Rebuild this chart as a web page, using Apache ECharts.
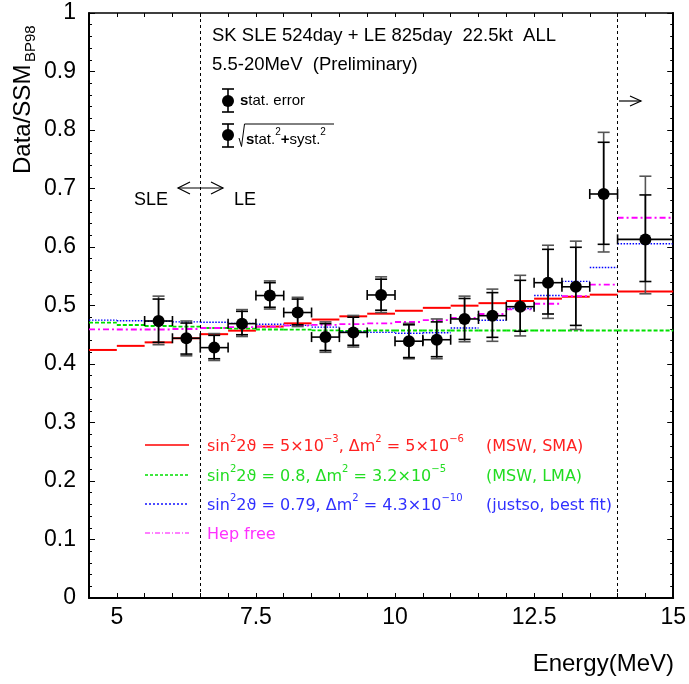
<!DOCTYPE html>
<html><head><meta charset="utf-8">
<script src="https://cdn.jsdelivr.net/npm/echarts@6/dist/echarts.min.js"></script>
<style>html,body{margin:0;padding:0;background:#fff}#c{width:689px;height:684px}</style>
</head><body><div id="c"></div>
<script>
// ---- data points (Data/SSM_BP98 vs energy) ----
const energy   = [5.75,6.25,6.75,7.25,7.75,8.25,8.75,9.25,9.75,10.25,10.75,11.25,11.75,12.25,12.75,13.25,13.75,14.5];
const energyLo = [5.5,6.0,6.5,7.0,7.5,8.0,8.5,9.0,9.5,10.0,10.5,11.0,11.5,12.0,12.5,13.0,13.5,14.0];
const energyHi = [6.0,6.5,7.0,7.5,8.0,8.5,9.0,9.5,10.0,10.5,11.0,11.5,12.0,12.5,13.0,13.5,14.0,15.0];
const ratio    = [0.4735,0.444,0.428,0.469,0.517,0.488,0.446,0.454,0.518,0.439,0.4415,0.477,0.4826,0.498,0.539,0.532,0.6906,0.613];
const statLow  = [0.437,0.417,0.409,0.450,0.497,0.467,0.423,0.432,0.492,0.411,0.4125,0.442,0.4456,0.456,0.4855,0.466,0.6046,0.541];
const statHigh = [0.511,0.470,0.449,0.490,0.539,0.511,0.469,0.480,0.545,0.467,0.472,0.512,0.522,0.543,0.596,0.5995,0.779,0.689];
const totLow   = [0.433,0.414,0.406,0.447,0.494,0.464,0.420,0.429,0.488,0.409,0.409,0.438,0.4388,0.448,0.478,0.459,0.5915,0.520];
const totHigh  = [0.516,0.4735,0.452,0.493,0.542,0.514,0.472,0.483,0.549,0.4695,0.477,0.516,0.528,0.5516,0.603,0.610,0.796,0.721];

// ---- model expectation bins ----
const binLo = [4.5,5.0,5.5,6.0,6.5,7.0,7.5,8.0,8.5,9.0,9.5,10.0,10.5,11.0,11.5,12.0,12.5,13.0,13.5,14.0];
const binHi = [5.0,5.5,6.0,6.5,7.0,7.5,8.0,8.5,9.0,9.5,10.0,10.5,11.0,11.5,12.0,12.5,13.0,13.5,14.0,15.0];
const mswSMA  = [0.424,0.431,0.437,0.444,0.451,0.457,0.464,0.4695,0.476,0.4815,0.486,0.491,0.496,0.4997,0.504,0.5077,0.5117,0.515,0.5185,0.524];
const mswLMA  = [0.4706,0.4667,0.465,0.464,0.4615,0.4604,0.459,0.4587,0.4575,0.4564,0.4573,0.4573,0.4573,0.4573,0.4573,0.4573,0.4573,0.4573,0.4573,0.4573];
const justso  = [0.475,0.474,0.473,0.472,0.4713,0.4695,0.468,0.466,0.463,0.4547,0.454,0.4525,0.4535,0.4615,0.4747,0.495,0.517,0.5413,0.565,0.6056];
const hepFree = [0.4593,0.459,0.459,0.4598,0.4615,0.463,0.464,0.4655,0.467,0.468,0.4695,0.4718,0.475,0.479,0.4855,0.4935,0.503,0.516,0.5356,0.650];

// ---- axis labels ----
const xLabelValues = [5, 7.5, 10, 12.5, 15];
const sleLeBoundary = 6.5;
const highEnergyBoundary = 14;

const RED = '#ff0000', GREEN = '#00e000', BLUE = '#0000ff', MAG = '#ff00ff';
const SANS = 'Liberation Sans, Arial, sans-serif';
const LSANS = 'DejaVu Sans, sans-serif';

const chart = echarts.init(document.getElementById('c'), null, {renderer: 'canvas'});

function modelSeries(name, vals, color, width, dash) {
  return {
    type: 'custom', name: name,
    data: vals.map((v, i) => [binLo[i], binHi[i], v]),
    encode: {x: [0, 1], y: 2},
    renderItem: function (params, api) {
      const p1 = api.coord([api.value(0), api.value(2)]);
      const p2 = api.coord([api.value(1), api.value(2)]);
      return {type: 'line', shape: {x1: p1[0], y1: p1[1], x2: p2[0], y2: p2[1]},
        style: {stroke: color, lineWidth: width, lineDash: dash}};
    }
  };
}

function renderPoint(params, api) {
  const x = api.value(0), y = api.value(1);
  const c = api.coord([x, y]);
  const xl = api.coord([api.value(2), y])[0];
  const xh = api.coord([api.value(3), y])[0];
  const sl = api.coord([x, api.value(4)])[1];
  const sh = api.coord([x, api.value(5)])[1];
  const tl = api.coord([x, api.value(6)])[1];
  const th = api.coord([x, api.value(7)])[1];
  const cap = 6, hcap = 5;
  const gray = {stroke: '#555', lineWidth: 1.6};
  const blk = {stroke: '#000', lineWidth: 1.6};
  const L = (x1, y1, x2, y2, st) => ({type: 'line', shape: {x1, y1, x2, y2}, style: st});
  return {type: 'group', children: [
    L(c[0], th, c[0], tl, gray),
    L(c[0] - cap, th, c[0] + cap, th, gray),
    L(c[0] - cap, tl, c[0] + cap, tl, gray),
    L(c[0], sh, c[0], sl, blk),
    L(c[0] - cap, sh, c[0] + cap, sh, blk),
    L(c[0] - cap, sl, c[0] + cap, sl, blk),
    L(xl, c[1], xh, c[1], blk),
    L(xl, c[1] - hcap, xl, c[1] + hcap, blk),
    L(xh, c[1] - hcap, xh, c[1] + hcap, blk),
    {type: 'circle', shape: {cx: c[0], cy: c[1], r: 6}, style: {fill: '#000'}}
  ]};
}

function legRich(color) {
  return {
    n: {fontSize: 16, fontFamily: LSANS, fill: color, lineHeight: 20, verticalAlign: 'bottom'},
    s: {fontSize: 10, fontFamily: LSANS, fill: color, lineHeight: 10, verticalAlign: 'top'}
  };
}
function txt(x, y, text, opts) {
  const st = Object.assign({text: text, fontSize: 18.5, fontFamily: SANS, fill: '#000',
    align: 'left', textAlign: 'left', verticalAlign: 'middle', textVerticalAlign: 'middle'}, opts || {});
  return {type: 'text', x: x, y: y, style: st, silent: true};
}
function ln(x1, y1, x2, y2, st) {
  return {type: 'line', shape: {x1, y1, x2, y2}, style: Object.assign({stroke: '#000', lineWidth: 1.2}, st || {}), silent: true};
}
function pl(points, st) {
  return {type: 'polyline', shape: {points: points}, style: Object.assign({stroke: '#000', lineWidth: 1.2, fill: null}, st || {}), silent: true};
}

const legendRows = [
  {y: 445, color: RED, dash: null, lw: 1.6,
   text: '{n|sin}{s|2}{n|2ϑ = 5×10}{s|−3}{n|, Δm}{s|2}{n| = 5×10}{s|−6}', tail: '(MSW, SMA)'},
  {y: 475, color: GREEN, dash: [3, 2], lw: 1.6,
   text: '{n|sin}{s|2}{n|2ϑ = 0.8, Δm}{s|2}{n| = 3.2×10}{s|−5}', tail: '(MSW, LMA)'},
  {y: 504, color: BLUE, dash: [2, 2], lw: 1.4,
   text: '{n|sin}{s|2}{n|2ϑ = 0.79, Δm}{s|2}{n| = 4.3×10}{s|−10}', tail: '(justso, best fit)'},
  {y: 533, color: MAG, dash: [5, 2, 1, 2], lw: 1.2, text: '{n|Hep free}', tail: ''}
];
const textColors = ['#ff2020', '#22dd22', '#3030ff', '#ff30ff'];

const graphics = [
  txt(212, 36, 'SK SLE 524day + LE 825day  22.5kt  ALL'),
  txt(212, 65, '5.5-20MeV  (Preliminary)'),
  // legend marker 1: stat error
  ln(228, 89, 228, 112, {lineWidth: 1.6}), ln(222, 89, 234, 89, {lineWidth: 1.6}), ln(222, 112, 234, 112, {lineWidth: 1.6}),
  {type: 'circle', shape: {cx: 228, cy: 101, r: 6}, style: {fill: '#000'}, silent: true},
  txt(240, 101, '{b|s}{n|tat. error}', {fontSize: 15, rich: {
    b: {fontSize: 15, fontFamily: SANS, fontWeight: 'bold', fill: '#000'},
    n: {fontSize: 15, fontFamily: SANS, fill: '#000'}}}),
  // legend marker 2: total error
  ln(228, 124, 228, 147, {lineWidth: 1.6}), ln(222, 124, 234, 124, {lineWidth: 1.6}), ln(222, 147, 234, 147, {lineWidth: 1.6}),
  {type: 'circle', shape: {cx: 228, cy: 135, r: 6}, style: {fill: '#000'}, silent: true},
  pl([[239, 138], [241.5, 146.5], [244.5, 124], [334, 124]], {lineWidth: 1}),
  txt(246, 137, '{b|s}{n|tat.}{s|2}{b|+}{n|syst.}{s|2}', {fontSize: 15, rich: {
    b: {fontSize: 15, fontFamily: SANS, fontWeight: 'bold', fill: '#000', lineHeight: 20, verticalAlign: 'bottom'},
    n: {fontSize: 15, fontFamily: SANS, fill: '#000', lineHeight: 20, verticalAlign: 'bottom'},
    s: {fontSize: 10, fontFamily: SANS, fill: '#000', lineHeight: 10, verticalAlign: 'top'}}}),
  // SLE / LE
  txt(134, 200, 'SLE', {fontSize: 18}),
  txt(234, 200, 'LE', {fontSize: 18}),
  ln(178, 188, 223, 188), pl([[190, 182], [178, 188], [190, 194]]), pl([[211, 182], [223, 188], [211, 194]]),
  // right arrow
  ln(619, 101, 641, 101), pl([[630, 96], [641, 101], [630, 106]]),
  // axis titles
  txt(674, 664, 'Energy(MeV)', {fontSize: 24, align: 'right', textAlign: 'right'}),
  {type: 'group', x: 23.5, y: 174, rotation: Math.PI / 2, silent: true, children: [
    {type: 'text', x: 0, y: 0, style: {text: 'Data/SSM', fontSize: 24, fontFamily: SANS, fill: '#000', align: 'left', textAlign: 'left', verticalAlign: 'middle', textVerticalAlign: 'middle'}},
    {type: 'text', x: 112, y: 7, style: {text: 'BP98', fontSize: 15, fontFamily: SANS, fill: '#000', align: 'left', textAlign: 'left', verticalAlign: 'middle', textVerticalAlign: 'middle'}}
  ]}
];
legendRows.forEach((r, i) => {
  graphics.push(ln(145, r.y, 189, r.y, {stroke: r.color, lineWidth: r.lw, lineDash: r.dash}));
  graphics.push(txt(207, r.y - 0.5, r.text, {fontSize: 16, fontFamily: LSANS, fill: textColors[i], rich: legRich(textColors[i])}));
  if (r.tail) graphics.push(txt(486, r.y + 1.5, r.tail, {fontSize: 16, fontFamily: LSANS, fill: textColors[i]}));
});

const axisCommon = {
  type: 'value', splitLine: {show: false},
  axisLine: {show: true, onZero: false, lineStyle: {color: '#000', width: 2}}
};

chart.setOption({
  animation: false,
  backgroundColor: '#fff',
  grid: {left: 89, top: 13, width: 585, height: 585, containLabel: false},
  xAxis: [
    Object.assign({}, axisCommon, {
      position: 'bottom', min: 4.5, max: 15, interval: 0.5,
      axisTick: {show: true, inside: true, length: 5, lineStyle: {color: '#000', width: 1}},
      axisLabel: {show: true, margin: 8, fontSize: 23, fontFamily: SANS, color: '#000',
        showMinLabel: true, showMaxLabel: true,
        formatter: v => xLabelValues.some(t => Math.abs(t - v) < 1e-6) ? String(v) : ''}
    }),
    Object.assign({}, axisCommon, {
      position: 'top', min: 4.5, max: 15, interval: 0.5,
      axisLine: {show: true, onZero: false, lineStyle: {color: '#000', width: 1.5}},
      axisTick: {show: true, inside: true, length: 4, lineStyle: {color: '#000', width: 1}},
      axisLabel: {show: false}
    })
  ],
  yAxis: [
    Object.assign({}, axisCommon, {
      position: 'left', min: 0, max: 1, interval: 0.1,
      axisTick: {show: true, inside: true, length: 6, lineStyle: {color: '#000', width: 1}},
      minorTick: {show: true, splitNumber: 5, length: 3, lineStyle: {color: '#000', width: 1}},
      axisLabel: {show: true, margin: 13, fontSize: 23, fontFamily: SANS, color: '#000'}
    }),
    Object.assign({}, axisCommon, {
      position: 'right', min: 0, max: 1, interval: 0.1,
      axisTick: {show: true, inside: true, length: 6, lineStyle: {color: '#000', width: 1}},
      minorTick: {show: true, splitNumber: 5, length: 3, lineStyle: {color: '#000', width: 1}},
      axisLabel: {show: false}
    })
  ],
  series: [
    modelSeries('MSW SMA', mswSMA, RED, 2, null),
    modelSeries('MSW LMA', mswLMA, GREEN, 1.8, [4, 2]),
    modelSeries('justso', justso, BLUE, 1.4, [1.5, 1.5]),
    modelSeries('Hep free', hepFree, MAG, 1.8, [6, 3, 2, 3]),
    {
      type: 'custom', name: 'data',
      data: energy.map((e, i) => [e, ratio[i], energyLo[i], energyHi[i], statLow[i], statHigh[i], totLow[i], totHigh[i]]),
      encode: {x: [0, 2, 3], y: [1, 4, 5, 6, 7]},
      renderItem: renderPoint, z: 5
    },
    {
      type: 'line', name: 'boundaries', data: [], silent: true,
      markLine: {silent: true, symbol: 'none', label: {show: false},
        lineStyle: {type: [3, 3], color: '#000', width: 1},
        data: [{xAxis: sleLeBoundary}, {xAxis: highEnergyBoundary}]}
    }
  ],
  graphic: graphics
});
</script>
</body></html>
